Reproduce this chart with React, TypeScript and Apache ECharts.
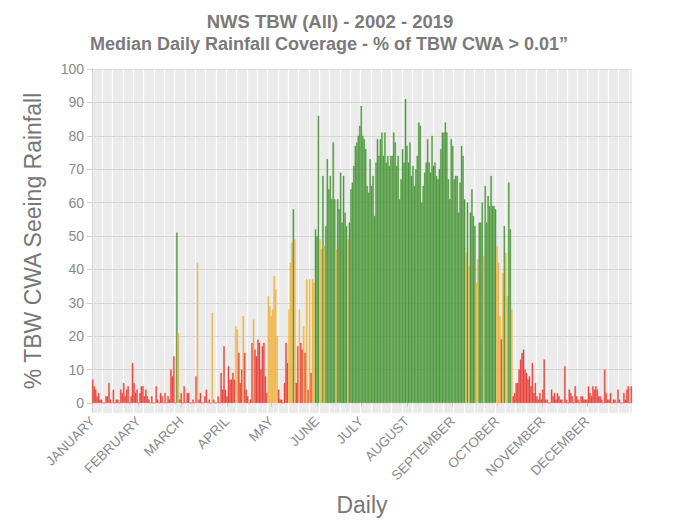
import React, { useEffect, useRef } from "react";
import * as echarts from "echarts";

const MONTH_NAMES = ["JANUARY","FEBRUARY","MARCH","APRIL","MAY","JUNE","JULY","AUGUST","SEPTEMBER","OCTOBER","NOVEMBER","DECEMBER"];
const MONTH_DAYS = [31,29,31,30,31,30,31,31,30,31,30,31];

const JAN = [7,5,4,2,3,1,1,0,0,2, 2,6,1,0,4,0,1,1,0,4, 3,6,2,4,5,0,2,12,6,3, 4];
const FEB = [0,3,5,5,2,4,2,1,0,2, 0,0,5,1,0,3,2,0,3,0, 2,1,10,8,14,0,51,21,1];
const MAR = [3,0,5,0,3,3,0,0,1,0, 8,42,1,3,0,0,2,4,0,1, 0,27,1,0,0,2,0,9,4,17, 4];
const APR = [2,11,7,7,9,7,23,22,15,6, 10,26,15,4,2,0,1,18,25,16, 14,19,18,10,17,18,8,3,32,29];
const MAY = [26,28,38,34,20,4,1,1,0,6, 18,12,28,42,48,58,49,6,17,28, 18,16,23,15,37,4,37,9,37,36, 52];
const JUN = [50,86,49,46,68,47,53,73,64,68, 61,78,61,46,61,58,69,54,68,57, 53,49,54,64,66,71,77,78,80,83];
const JUL = [89,80,79,76,65,63,73,65,68,56, 72,79,74,79,81,74,81,72,74,71, 74,74,81,78,71,74,61,67,76,72, 91];
const AUG = [77,72,78,68,71,65,70,74,84,83, 60,65,69,72,79,72,69,80,71,72, 68,67,70,76,81,81,84,81,67,61, 79];
const SEP = [77,67,68,68,57,66,77,74,61,45, 60,41,57,64,56,53,36,43,54,54, 60,44,65,54,62,59,68,59,59,58];
const OCT = [47,42,26,19,39,53,45,32,66,52, 28,2,3,6,6,10,13,15,16,10, 9,7,8,5,12,3,6,2,1,3, 1];
const NOV = [4,13,1,1,0,0,4,2,3,1, 3,2,1,1,0,11,1,0,4,3, 2,0,5,2,1,0,2,2,1,1];
const DEC = [1,5,3,2,5,4,5,4,2,2, 1,0,10,3,1,1,3,0,1,1, 0,4,1,0,0,3,1,4,5,0, 5];

const Y_TICKS = [0,10,20,30,40,50,60,70,80,90,100];
const COLOR_LOW = "#e8453c";
const COLOR_MID = "#f0b544";
const COLOR_HIGH = "#4f9a3e";
const THRESH_MID = 20;
const THRESH_HIGH = 50;

const VALUES = [JAN,FEB,MAR,APR,MAY,JUN,JUL,AUG,SEP,OCT,NOV,DEC].flat();

const CATEGORIES: string[] = [];
const MONTH_START = new Set<number>();
const MONTH_OF: number[] = [];
{
  let idx = 0;
  MONTH_DAYS.forEach((n, m) => {
    MONTH_START.add(idx);
    for (let d = 1; d <= n; d++) {
      CATEGORIES.push(`${m + 1}/${d}`);
      MONTH_OF.push(m);
      idx++;
    }
  });
}

const colorFor = (v: number) =>
  v < THRESH_MID ? COLOR_LOW : v < THRESH_HIGH ? COLOR_MID : COLOR_HIGH;

const FONT = "'Liberation Sans', Arial, sans-serif";

export default function App() {
  const ref = useRef<HTMLDivElement>(null);
  useEffect(() => {
    if (!ref.current) return;
    const chart = echarts.init(ref.current, undefined, { renderer: "svg" });
    chart.setOption({
      animation: false,
      backgroundColor: "#ffffff",
      textStyle: { fontFamily: FONT },
      graphic: [
        {
          type: "text",
          x: 330,
          y: 12,
          style: {
            text: "NWS TBW (All) - 2002 - 2019",
            textAlign: "center",
            fill: "#7a7a7a",
            font: `bold 18.5px ${FONT}`,
          },
        },
        {
          type: "text",
          x: 329,
          y: 35,
          style: {
            text: "Median Daily Rainfall Coverage - % of TBW CWA > 0.01\u201D",
            textAlign: "center",
            fill: "#7a7a7a",
            font: `bold 18px ${FONT}`,
          },
        },
      ],
      grid: {
        left: 92,
        right: 48,
        top: 69,
        bottom: 112,
        show: true,
        backgroundColor: "#ebebeb",
        borderWidth: 0,
      },
      xAxis: {
        type: "category",
        data: CATEGORIES,
        boundaryGap: true,
        name: "Daily",
        nameLocation: "middle",
        nameGap: 80,
        nameTextStyle: { fontSize: 23, color: "#777777", fontFamily: FONT },
        axisLine: { show: false },
        axisTick: {
          show: true,
          alignWithLabel: true,
          interval: (i: number) => MONTH_START.has(i),
          length: 4,
          lineStyle: { color: "#cccccc" },
        },
        axisLabel: {
          interval: (i: number) => MONTH_START.has(i),
          formatter: (_v: string, i: number) => MONTH_NAMES[MONTH_OF[i]],
          rotate: 45,
          margin: 6,
          fontSize: 13.5,
          color: "#8a8a8a",
          fontFamily: FONT,
        },
        splitLine: {
          show: true,
          interval: (i: number) => i % 7 === 0,
          lineStyle: { color: "#fdfdfd", width: 1.2 },
        },
      },
      yAxis: {
        type: "value",
        min: -3,
        max: 100,
        name: "% TBW CWA Seeing Rainfall",
        nameLocation: "middle",
        nameGap: 48,
        nameTextStyle: { fontSize: 23, color: "#777777", fontFamily: FONT },
        axisLine: { show: true, lineStyle: { color: "#d3d3d3" } },
        axisTick: {
          show: true,
          length: 5,
          customValues: Y_TICKS,
          lineStyle: { color: "#cfcfcf" },
        },
        axisLabel: {
          customValues: Y_TICKS,
          fontSize: 14,
          color: "#8a8a8a",
          margin: 8,
          fontFamily: FONT,
        },
        splitLine: { show: false },
      },
      series: [
        {
          type: "line",
          data: [],
          z: 1,
          silent: true,
          markLine: {
            silent: true,
            z: 1,
            symbol: "none",
            label: { show: false },
            lineStyle: { color: "#d6d6d6", type: "solid", width: 1 },
            data: Y_TICKS.slice(1).map((v) => ({ yAxis: v })),
          },
        },
        {
          type: "bar",
          z: 3,
          barCategoryGap: "0%",
          data: VALUES.map((v) => ({
            value: v,
            itemStyle: {
              color: colorFor(v),
              borderColor: colorFor(v),
              borderWidth: 0.4,
            },
          })),
        },
      ],
    });
    return () => chart.dispose();
  }, []);
  return (
    <div
      ref={ref}
      style={{ position: "fixed", left: 0, top: 0, width: 680, height: 525 }}
    />
  );
}
